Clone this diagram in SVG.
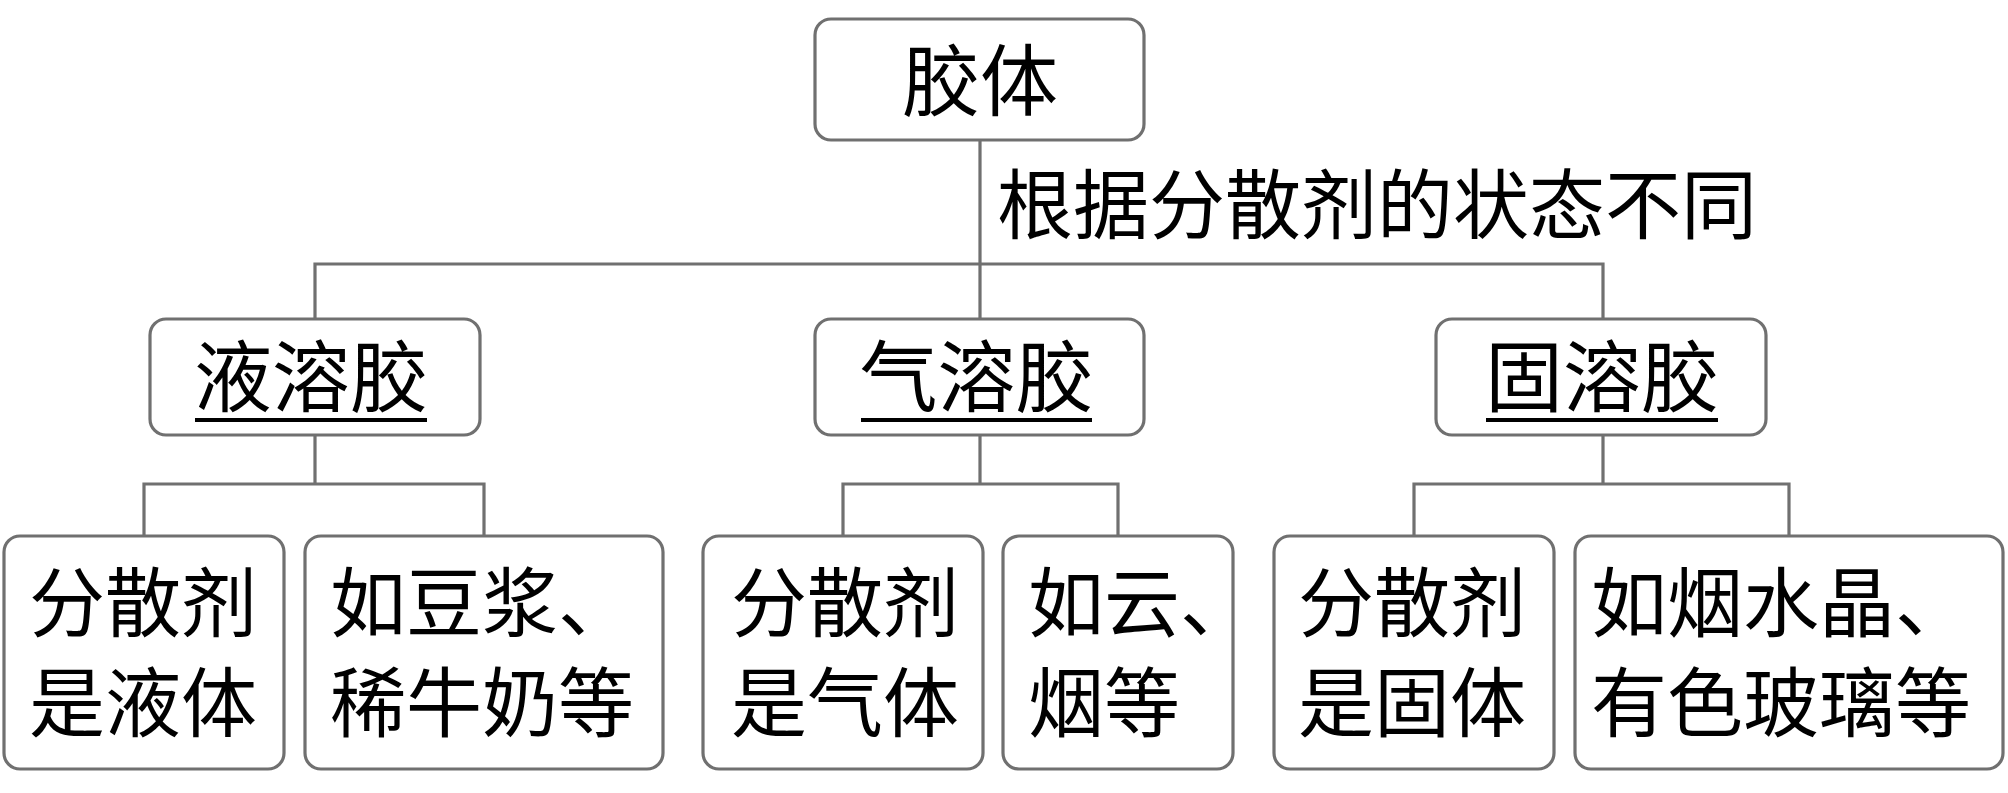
<svg xmlns="http://www.w3.org/2000/svg" width="2008" height="793" viewBox="0 0 2008 793">
<style>
.box{fill:#fff;stroke:#707070;stroke-width:3.2}
.ln{fill:none;stroke:#707070;stroke-width:3.2}
.t{font-family:"Noto Sans CJK SC","Noto Sans CJK TC",sans-serif;fill:#000;font-size:76px}
.big{font-size:78px}
.ul{stroke:#000;stroke-width:4}
</style>
<rect width="2008" height="793" fill="#fff"/>
<g id="connectors">
<path class="ln" d="M980 140V319M315 319V264H1603V319"/>
<path class="ln" d="M315 435V484M144 536V484H484V536"/>
<path class="ln" d="M980 435V484M843 536V484H1118V536"/>
<path class="ln" d="M1603 435V484M1414 536V484H1789V536"/>
</g>
<g id="root">
<rect class="box" x="815" y="19" width="329" height="121" rx="16"/>
<text class="t big" x="980" y="110" text-anchor="middle">胶体</text>
</g>
<g id="label">
<text class="t" x="997" y="233">根据分散剂的状态不同</text>
</g>
<g id="liquid-sol">
<rect class="box" x="150" y="319" width="330" height="116" rx="16"/>
<text class="t big" x="311" y="406" text-anchor="middle">液溶胶</text>
<line class="ul" x1="195" y1="420" x2="427" y2="420"/>
</g>
<g id="gas-sol">
<rect class="box" x="815" y="319" width="329" height="116" rx="16"/>
<text class="t big" x="976.5" y="406" text-anchor="middle">气溶胶</text>
<line class="ul" x1="861" y1="420" x2="1092" y2="420"/>
</g>
<g id="solid-sol">
<rect class="box" x="1436" y="319" width="330" height="116" rx="16"/>
<text class="t big" x="1602" y="406" text-anchor="middle">固溶胶</text>
<line class="ul" x1="1486" y1="420" x2="1718" y2="420"/>
</g>
<g id="leaf1">
<rect class="box" x="4" y="536" width="280" height="233" rx="16"/>
<text class="t" x="29" y="631">分散剂</text>
<text class="t" x="29" y="731">是液体</text>
</g>
<g id="leaf2">
<rect class="box" x="305" y="536" width="358" height="233" rx="16"/>
<text class="t" x="330" y="631">如豆浆、</text>
<text class="t" x="330" y="731">稀牛奶等</text>
</g>
<g id="leaf3">
<rect class="box" x="703" y="536" width="280" height="233" rx="16"/>
<text class="t" x="731" y="631">分散剂</text>
<text class="t" x="731" y="731">是气体</text>
</g>
<g id="leaf4">
<rect class="box" x="1003" y="536" width="230" height="233" rx="16"/>
<text class="t" x="1028" y="631">如云、</text>
<text class="t" x="1028" y="731">烟等</text>
</g>
<g id="leaf5">
<rect class="box" x="1274" y="536" width="280" height="233" rx="16"/>
<text class="t" x="1298" y="631">分散剂</text>
<text class="t" x="1298" y="731">是固体</text>
</g>
<g id="leaf6">
<rect class="box" x="1575" y="536" width="428" height="233" rx="16"/>
<text class="t" x="1591" y="631">如烟水晶、</text>
<text class="t" x="1591" y="731">有色玻璃等</text>
</g>
</svg>
